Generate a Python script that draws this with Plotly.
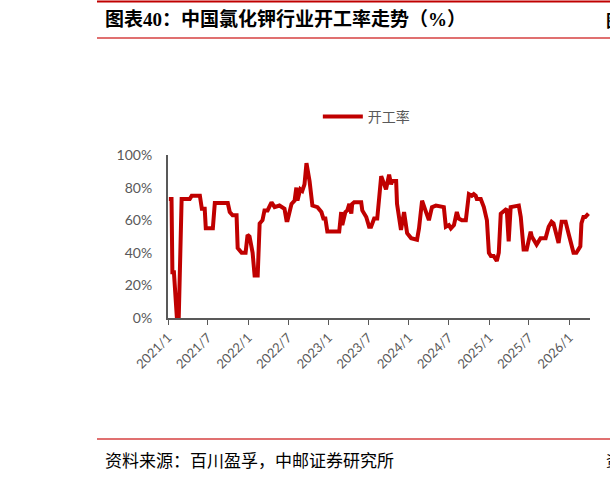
import plotly.graph_objects as go

dates = [
    "2021-01-05", "2021-01-17", "2021-01-21", "2021-01-28", "2021-02-10", "2021-02-19",
    "2021-03-04", "2021-04-10", "2021-04-19", "2021-05-26", "2021-06-04", "2021-06-17",
    "2021-06-22", "2021-07-24", "2021-08-02", "2021-09-30", "2021-10-09", "2021-10-22",
    "2021-11-09", "2021-11-14", "2021-12-02", "2021-12-20", "2021-12-29", "2022-01-07",
    "2022-01-21", "2022-01-30", "2022-02-13", "2022-02-22", "2022-03-07", "2022-03-16",
    "2022-03-30", "2022-04-17", "2022-05-01", "2022-05-23", "2022-06-15", "2022-06-24",
    "2022-06-29", "2022-07-17", "2022-07-31", "2022-08-08", "2022-08-13", "2022-08-26",
    "2022-09-04", "2022-09-14", "2022-09-23", "2022-09-28", "2022-10-07", "2022-10-20",
    "2022-11-12", "2022-11-30", "2022-12-09", "2022-12-18", "2022-12-27", "2023-02-19",
    "2023-02-28", "2023-03-05", "2023-03-19", "2023-03-28", "2023-04-06", "2023-04-15",
    "2023-04-19", "2023-04-28", "2023-05-30", "2023-06-04", "2023-06-22", "2023-07-05",
    "2023-07-14", "2023-07-28", "2023-08-11", "2023-08-29", "2023-09-11", "2023-09-20",
    "2023-10-04", "2023-10-13", "2023-10-18", "2023-11-05", "2023-11-09", "2023-11-27",
    "2023-12-11", "2023-12-25", "2024-01-12", "2024-02-03", "2024-02-08", "2024-02-17",
    "2024-03-02", "2024-03-20", "2024-04-02", "2024-04-16", "2024-05-04", "2024-06-09",
    "2024-06-18", "2024-07-02", "2024-07-11", "2024-07-25", "2024-08-07", "2024-08-16",
    "2024-08-30", "2024-09-17", "2024-10-01", "2024-10-14", "2024-10-23", "2024-11-01",
    "2024-11-06", "2024-11-24", "2024-12-08", "2024-12-22", "2024-12-31", "2025-01-09",
    "2025-01-22", "2025-02-05", "2025-02-14", "2025-02-23", "2025-03-09", "2025-03-22",
    "2025-03-31", "2025-04-09", "2025-05-16", "2025-05-25", "2025-06-07", "2025-06-21",
    "2025-07-09", "2025-07-14", "2025-07-23", "2025-08-05", "2025-08-23", "2025-09-15",
    "2025-09-29", "2025-10-12", "2025-10-21", "2025-11-13", "2025-11-27", "2025-12-15",
    "2025-12-28", "2026-01-20", "2026-02-02", "2026-02-20", "2026-02-25", "2026-03-06",
    "2026-03-15", "2026-03-29",
]
rate = [
    73, 73, 28, 28, 1, 1,
    73, 73, 75, 75, 67, 67,
    55, 55, 70.5, 70.5, 65, 63,
    63, 43, 40, 40, 51, 50,
    40, 26, 26, 58, 60, 66,
    66, 71, 68, 69, 67, 60,
    60, 70, 72, 80, 72, 79,
    78, 82, 95, 92, 84, 69,
    68, 65, 61, 61, 53, 53,
    65, 57, 65, 66, 70, 64,
    70, 71, 71, 66, 62, 56,
    56, 61, 61, 87, 81, 79,
    88, 82, 84, 84, 70, 54,
    65, 52, 49, 48, 48, 55,
    72, 65, 60, 68, 69, 68,
    56, 57, 55, 57, 65, 61,
    60, 60, 76, 75, 76, 75,
    73, 73, 68, 60, 40, 38,
    38, 35, 40, 64, 66, 67,
    47, 68, 69, 62, 42, 42,
    53, 50, 48, 45, 49, 49,
    56, 59, 58, 46, 59, 59,
    52, 40, 40, 44, 58, 62,
    62, 64,
]
tick_vals = ["2021-01-01", "2021-07-01", "2022-01-01", "2022-07-01", "2023-01-01",
             "2023-07-01", "2024-01-01", "2024-07-01", "2025-01-01", "2025-07-01",
             "2026-01-01"]
tick_text = ["2021/1", "2021/7", "2022/1", "2022/7", "2023/1", "2023/7",
             "2024/1", "2024/7", "2025/1", "2025/7", "2026/1"]
y_tick_vals = [0, 20, 40, 60, 80, 100]
y_tick_text = ["0%", "20%", "40%", "60%", "80%", "100%"]

title_text = "图表40：中国氯化钾行业开工率走势（%）"
source_text = "资料来源：百川盈孚，中邮证券研究所"

fig = go.Figure()
fig.add_trace(go.Scatter(
    x=dates, y=rate, mode="lines", name="开工率",
    line=dict(color="#C00000", width=4),
))

L, R, T, B = 168, 20, 155, 162
W, H = 610, 480
pw, ph = W - L - R, H - T - B

def px(x):
    return (x - L) / pw

def py(y):
    return (H - B - y) / ph

grey = "#595959"
fig.update_layout(
    width=W, height=H,
    margin=dict(l=L, r=R, t=T, b=B),
    paper_bgcolor="white", plot_bgcolor="white",
    showlegend=True,
    legend=dict(orientation="h", x=0.47, xanchor="center", y=py(117), yanchor="middle",
                font=dict(family="Noto Sans CJK SC", size=14, color=grey),
                itemwidth=40),
    xaxis=dict(
        range=["2021-01-01", "2026-04-05"],
        tickvals=tick_vals, ticktext=tick_text, tickangle=-45,
        showgrid=False, showline=True, linecolor="#595959", linewidth=2,
        ticks="outside", ticklen=5, tickcolor="#595959", tickwidth=1,
        tickfont=dict(family="Lato", size=13, color=grey),
        zeroline=False,
    ),
    yaxis=dict(
        range=[0, 100], tickvals=y_tick_vals, ticktext=y_tick_text,
        showgrid=False, showline=True, linecolor="#595959", linewidth=2,
        ticks="", tickfont=dict(family="Lato", size=14, color=grey),
        ticklabelstandoff=11,
        zeroline=False,
    ),
    shapes=[
        dict(type="line", xref="paper", yref="paper", x0=px(97), x1=px(612),
             y0=py(1.5), y1=py(1.5), line=dict(color="#C00000", width=2)),
        dict(type="line", xref="paper", yref="paper", x0=px(97), x1=px(612),
             y0=py(38), y1=py(38), line=dict(color="#E07070", width=2)),
        dict(type="line", xref="paper", yref="paper", x0=px(97), x1=px(612),
             y0=py(439), y1=py(439), line=dict(color="#E07070", width=2)),
    ],
    annotations=[
        dict(text="<b>" + title_text + "</b>", xref="paper", yref="paper",
             x=px(103), y=py(19), xanchor="left", yanchor="middle", showarrow=False,
             font=dict(family="Liberation Serif, Noto Sans CJK SC", size=19, color="black")),
        dict(text="<b>图</b>", xref="paper", yref="paper",
             x=px(604), y=py(19), xanchor="left", yanchor="middle", showarrow=False,
             font=dict(family="Noto Sans CJK SC", size=17, color="black")),
        dict(text=source_text, xref="paper", yref="paper",
             x=px(103), y=py(459), xanchor="left", yanchor="middle", showarrow=False,
             font=dict(family="Noto Sans CJK SC", size=17, color="black")),
        dict(text="资", xref="paper", yref="paper",
             x=px(604), y=py(459), xanchor="left", yanchor="middle", showarrow=False,
             font=dict(family="Noto Sans CJK SC", size=15, color="black")),
    ],
)

fig.write_html("out.html")
